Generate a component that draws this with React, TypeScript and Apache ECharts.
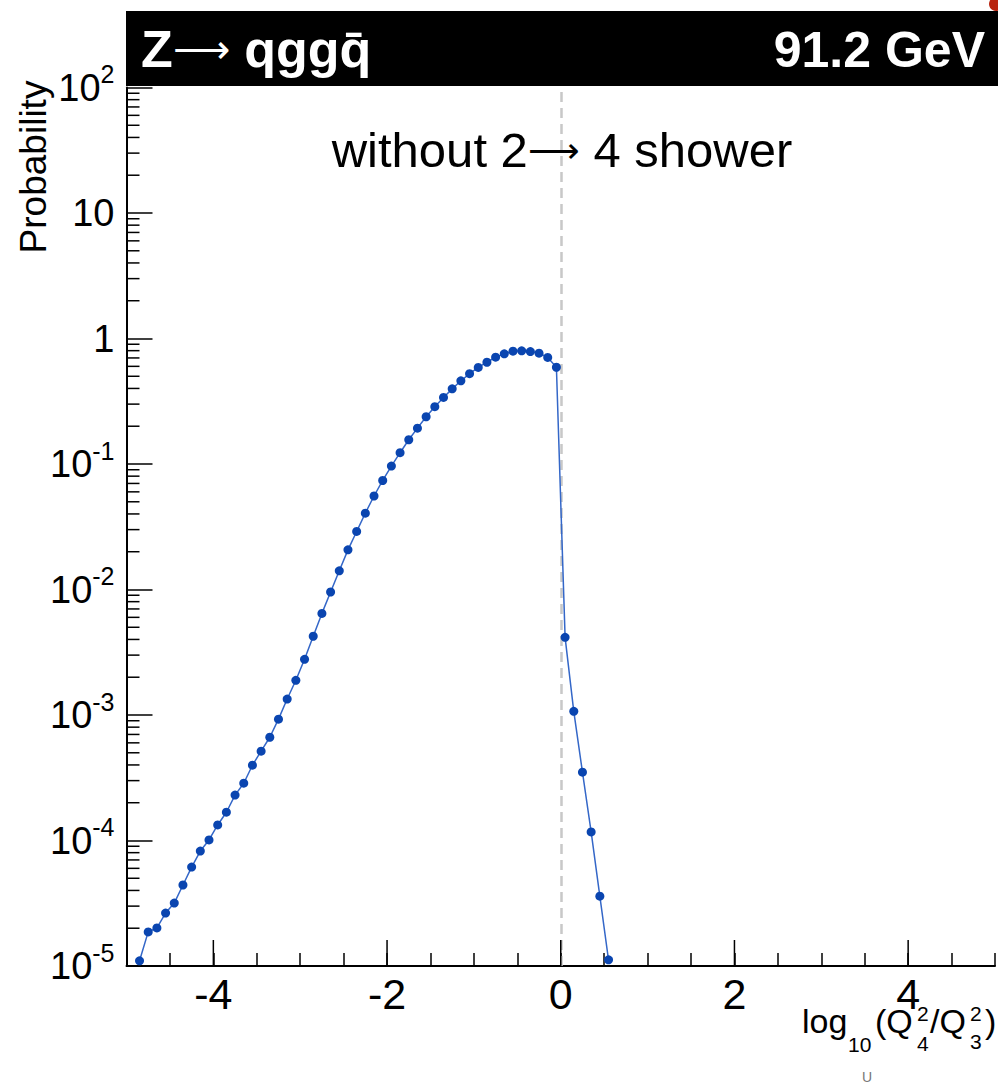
import React, { useEffect, useRef } from 'react';
import * as echarts from 'echarts';

// Bin centres of the histogram, log10(Q4^2/Q3^2)
const binCenters = [
  -4.85, -4.75, -4.65, -4.55, -4.45, -4.35, -4.25, -4.15, -4.05, -3.95,
  -3.85, -3.75, -3.65, -3.55, -3.45, -3.35, -3.25, -3.15, -3.05, -2.95,
  -2.85, -2.75, -2.65, -2.55, -2.45, -2.35, -2.25, -2.15, -2.05, -1.95,
  -1.85, -1.75, -1.65, -1.55, -1.45, -1.35, -1.25, -1.15, -1.05, -0.95,
  -0.85, -0.75, -0.65, -0.55, -0.45, -0.35, -0.25, -0.15, -0.05,
  0.05, 0.15, 0.25, 0.35, 0.45, 0.55,
];

// Probability per bin
const probability = [
  1.10e-5, 1.87e-5, 2.01e-5, 2.64e-5, 3.17e-5, 4.42e-5, 6.14e-5, 8.24e-5, 1.01e-4, 1.33e-4,
  1.68e-4, 2.30e-4, 2.86e-4, 3.98e-4, 5.15e-4, 6.65e-4, 9.27e-4, 1.34e-3, 1.89e-3, 2.78e-3,
  4.24e-3, 6.45e-3, 9.55e-3, 0.0141, 0.0207, 0.0290, 0.0406, 0.0556, 0.0739, 0.0962,
  0.123, 0.156, 0.193, 0.238, 0.286, 0.339, 0.397, 0.460, 0.524, 0.588,
  0.647, 0.710, 0.755, 0.792, 0.798, 0.787, 0.764, 0.707, 0.590,
  4.16e-3, 1.07e-3, 3.5e-4, 1.17e-4, 3.6e-5, 1.12e-5,
];

const xMajorTicks = [-4, -2, 0, 2, 4];
const yDecades = [1e-5, 1e-4, 1e-3, 1e-2, 1e-1, 1, 10];
const yMinorMultipliers = [2, 3, 4, 5, 6, 7, 8, 9];

const FONT = '"Liberation Sans", Arial, Helvetica, sans-serif';
const ARROW_FONT = '"DejaVu Sans", sans-serif';

export default function App() {
  const ref = useRef<HTMLDivElement>(null);

  useEffect(() => {
    if (!ref.current) return;
    const chart = echarts.init(ref.current, undefined, { renderer: 'svg' });

    const yMinorTicks: number[][] = [];
    yDecades.forEach((d) => yMinorMultipliers.forEach((m) => yMinorTicks.push([-5, d * m])));

    const seriesData = binCenters.map((x, i) => [x, probability[i]]);

    const txt = (x: number, y: number, text: string, size: number, extra: any = {}) => ({
      type: 'text', z: 50, x, y,
      style: { text, fill: '#000', fontSize: size, fontFamily: FONT, align: 'left', verticalAlign: 'middle', ...extra },
    });

    const option: any = {
      animation: false,
      backgroundColor: '#fff',
      grid: { left: 126.5, top: 87.5, width: 872, height: 878.5, containLabel: false },
      xAxis: {
        type: 'value',
        min: -5,
        max: 5,
        interval: 0.5,
        axisLine: { show: true, onZero: false, lineStyle: { color: '#000', width: 2 } },
        axisTick: { show: true, inside: true, length: 13, lineStyle: { color: '#000', width: 1.5 } },
        splitLine: { show: false },
        axisLabel: {
          show: true,
          margin: 6,
          fontSize: 43,
          lineHeight: 43,
          color: '#000',
          fontFamily: FONT,
          formatter: (v: number) => {
            const r = Math.round(v);
            if (Math.abs(v - r) < 1e-9 && r % 2 === 0 && Math.abs(r) < 5) return String(r);
            return '';
          },
        },
      },
      yAxis: {
        type: 'log',
        logBase: 10,
        min: 1e-5,
        max: 100,
        splitNumber: 7,
        axisLine: { show: true, onZero: false, lineStyle: { color: '#000', width: 2 } },
        axisTick: { show: true, inside: true, length: 26, lineStyle: { color: '#000', width: 1.5 } },
        splitLine: { show: false },
        minorTick: { show: false },
        axisLabel: {
          show: true,
          margin: 12,
          color: '#000',
          fontFamily: FONT,
          formatter: (v: number) => {
            const e = Math.round(Math.log10(v));
            if (e === 0) return '{b|1}';
            if (e === 1) return '{b|10}';
            return '{b|10}{s|' + e + '}';
          },
          rich: {
            b: { fontSize: 38, lineHeight: 52, fontFamily: FONT, color: '#000' },
            s: { fontSize: 25, lineHeight: 25, verticalAlign: 'top', fontFamily: FONT, color: '#000' },
          },
        },
      },
      series: [
        {
          type: 'custom',
          silent: true,
          coordinateSystem: 'cartesian2d',
          data: yMinorTicks,
          encode: { x: 0, y: 1 },
          renderItem: (_p: any, api: any) => {
            const p = api.coord([api.value(0), api.value(1)]);
            return {
              type: 'line',
              shape: { x1: p[0], y1: p[1], x2: p[0] + 13, y2: p[1] },
              style: { stroke: '#000', lineWidth: 1.5 },
            };
          },
          z: 3,
        },
        {
          type: 'custom',
          silent: true,
          coordinateSystem: 'cartesian2d',
          data: xMajorTicks.map((v) => [v, 1e-5]),
          encode: { x: 0, y: 1 },
          renderItem: (_p: any, api: any) => {
            const p = api.coord([api.value(0), api.value(1)]);
            return {
              type: 'line',
              shape: { x1: p[0], y1: p[1], x2: p[0], y2: p[1] - 26 },
              style: { stroke: '#000', lineWidth: 1.5 },
            };
          },
          z: 3,
        },
        {
          type: 'line',
          data: seriesData,
          symbol: 'circle',
          symbolSize: 9,
          showAllSymbol: true,
          itemStyle: { color: '#0a45b0' },
          lineStyle: { color: '#3467c8', width: 1.5 },
          z: 5,
          markLine: {
            silent: true,
            symbol: ['none', 'none'],
            label: { show: false },
            lineStyle: { type: [10, 6], color: '#c8c8c8', width: 2.5 },
            data: [{ xAxis: 0 }],
            z: 1,
          },
        },
      ],
      graphic: [
        { type: 'rect', z: 100, shape: { x: 126, y: 11, width: 880, height: 75 }, style: { fill: '#000' } },
        {
          type: 'text', z: 101, x: 141, y: 49,
          style: {
            text: '{h|Z}{a|\u27F6}{h| qgg\u0071\u0304}',
            fill: '#fff', align: 'left', verticalAlign: 'middle',
            rich: {
              h: { fill: '#fff', fontSize: 52, lineHeight: 60, fontWeight: 'bold', fontFamily: FONT },
              a: { fill: '#fff', fontSize: 40, lineHeight: 60, fontWeight: 200, fontFamily: ARROW_FONT },
            },
          },
        },
        {
          type: 'text', z: 101, x: 985, y: 50,
          style: { text: '91.2 GeV', fill: '#fff', fontSize: 50, fontWeight: 'bold', fontFamily: FONT, align: 'right', verticalAlign: 'middle' },
        },
        { type: 'circle', z: 101, shape: { cx: 996, cy: 4, r: 7 }, style: { fill: '#b8240f' } },
        {
          type: 'text', z: 50, x: 562, y: 150,
          style: {
            text: '{t|without 2}{a|\u27F6}{t| 4 shower}',
            align: 'center', verticalAlign: 'middle',
            rich: {
              t: { fill: '#000', fontSize: 49, lineHeight: 58, fontFamily: FONT },
              a: { fill: '#000', fontSize: 36, lineHeight: 58, fontWeight: 200, fontFamily: ARROW_FONT },
            },
          },
        },
        {
          type: 'text', z: 50, x: 33, y: 167, rotation: Math.PI / 2,
          style: { text: 'Probability', fill: '#000', fontSize: 37, fontFamily: FONT, align: 'center', verticalAlign: 'middle' },
        },
        txt(802, 1021, 'log', 34),
        txt(848, 1044, '10', 21),
        txt(875, 1021, '(Q', 34),
        txt(917, 1013, '2', 21),
        txt(917, 1043, '4', 21),
        txt(930, 1021, '/Q', 34),
        txt(970, 1013, '2', 21),
        txt(970, 1041, '3', 21),
        txt(985, 1021, ')', 34),
        txt(867, 1077, 'U', 14, { fill: '#777', align: 'center' }),
      ],
    };

    chart.setOption(option);
    return () => chart.dispose();
  }, []);

  return (
    <div
      ref={ref}
      style={{ position: 'absolute', left: 0, top: 0, width: 998, height: 1087, background: '#fff' }}
    />
  );
}
